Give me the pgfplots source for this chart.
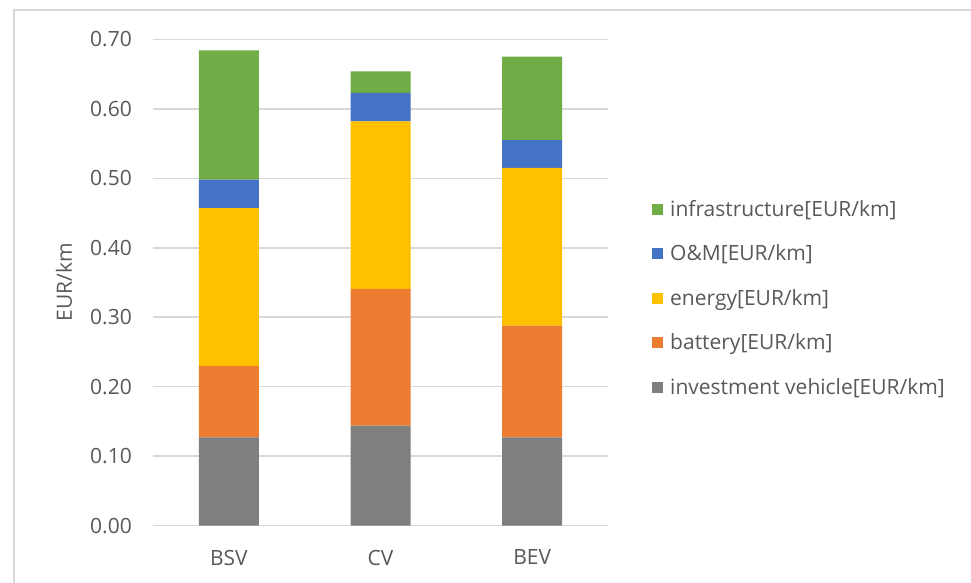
\documentclass[border=0pt]{standalone}
\usepackage{pgfplots}
\pgfplotsset{compat=1.18}
\usepackage{fontspec}
\setmainfont{Open Sans}
\definecolor{cinfra}{HTML}{70AD47}
\definecolor{com}{HTML}{4472C4}
\definecolor{cenergy}{HTML}{FFC000}
\definecolor{cbatt}{HTML}{ED7D31}
\definecolor{cinv}{HTML}{7F7F7F}
\definecolor{txt}{HTML}{595959}
\definecolor{gridc}{HTML}{D9D9D9}
\begin{document}
\begin{tikzpicture}
\useasboundingbox (0,0) rectangle (971bp,583bp);
\fill[white] (0,0) rectangle (971bp,583bp);
\draw[gridc, line width=1.2bp] (14bp,0) -- (14bp,573bp) -- (971bp,573bp);
\begin{axis}[
  at={(153bp,57.3bp)}, anchor=south west,
  scale only axis, width=455bp, height=486.4bp,
  ybar stacked, bar width=60bp,
  xmin=-0.5, xmax=2.5, ymin=0, ymax=0.7,
  xtick=data, xticklabels={BSV,CV,BEV},
  ytick={0,0.1,...,0.71},
  yticklabel={\pgfmathprintnumber[fixed,fixed zerofill,precision=2]{\tick}},
  /pgf/number format/assume math mode=true,
  axis line style={draw=none},
  major tick style={draw=none},
  ymajorgrids, grid style={gridc, line width=1.5bp},
  ticklabel style={font=\fontsize{21bp}{25bp}\selectfont, text=txt, inner sep=0pt},
  yticklabel style={anchor=east, xshift=-21bp},
  xticklabel style={anchor=north, yshift=-24bp},
  ylabel={EUR/km},
  label style={font=\fontsize{21bp}{25bp}\selectfont, text=txt},
  ylabel style={at={(axis description cs:-0.1956,0.5)}, anchor=center, inner sep=0pt},
  legend reversed,
  legend cell align=left,
  legend style={draw=none, fill=none, inner sep=0pt, at={(1,0.468)}, anchor=west, xshift=44bp,
    font=\fontsize{21bp}{25bp}\selectfont, text=txt, row sep=27bp,
    nodes={inner sep=0pt},
    /tikz/every odd column/.append style={column sep=7bp}},
  legend image code/.code={\fill[#1] (0bp,-5.5bp) rectangle (11bp,5.5bp);},
]
\addplot[fill=cinv, draw=none] coordinates {(0,0.127) (1,0.144) (2,0.127)};
\addlegendentry{investment vehicle[EUR/km]}
\addplot[fill=cbatt, draw=none] coordinates {(0,0.103) (1,0.197) (2,0.161)};
\addlegendentry{battery[EUR/km]}
\addplot[fill=cenergy, draw=none] coordinates {(0,0.227) (1,0.241) (2,0.227)};
\addlegendentry{energy[EUR/km]}
\addplot[fill=com, draw=none] coordinates {(0,0.041) (1,0.041) (2,0.040)};
\addlegendentry{O\&M[EUR/km]}
\addplot[fill=cinfra, draw=none] coordinates {(0,0.186) (1,0.031) (2,0.120)};
\addlegendentry{infrastructure[EUR/km]}
\end{axis}
\end{tikzpicture}
\end{document}
